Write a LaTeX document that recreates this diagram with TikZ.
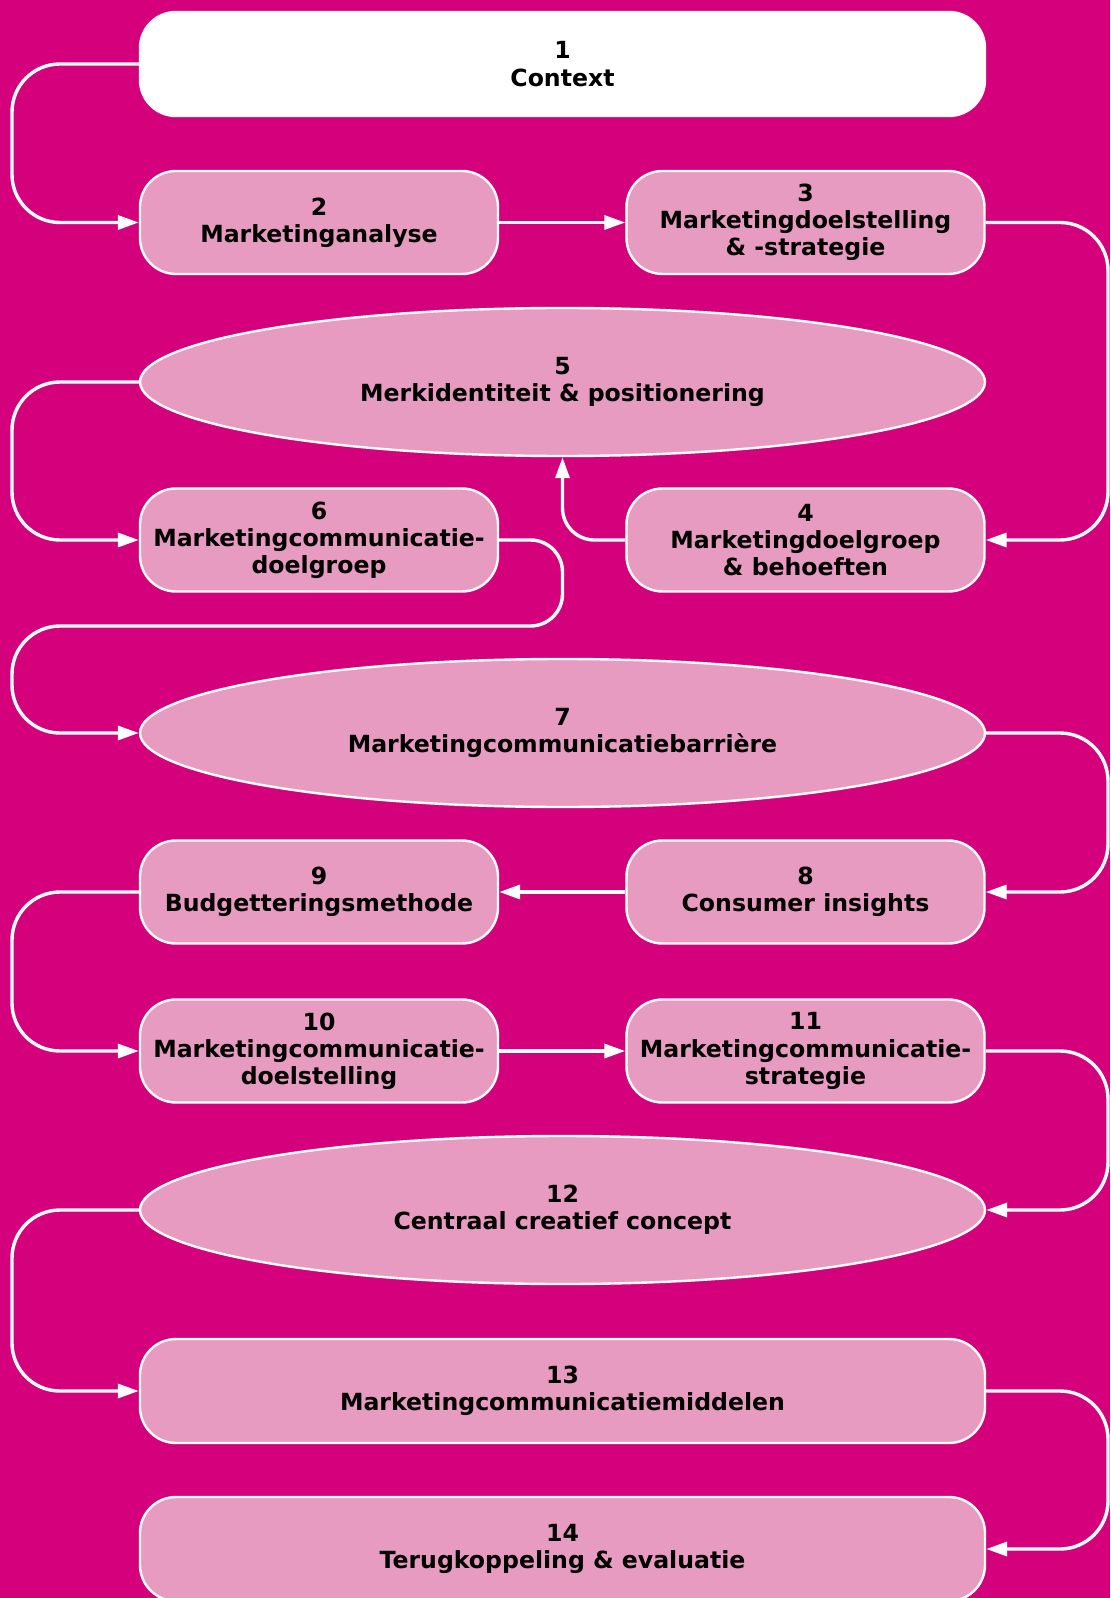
\documentclass[tikz,border=0pt]{standalone}
\usepackage{fontspec}
\setmainfont{DejaVu Sans}
\usetikzlibrary{shapes.geometric,arrows.meta}
\definecolor{magbg}{RGB}{213,0,123}
\definecolor{pinkfill}{RGB}{231,155,193}
\tikzset{x=0.5pt, y=-0.5pt,
    every node/.style={align=center, font=\fontsize{11.8}{13.6}\selectfont\bfseries},
    box/.style={draw=white, line width=1.2pt, fill=pinkfill, rounded corners=18pt,
        minimum width=179pt, minimum height=51.5pt, inner sep=0pt},
    wbox/.style={box, minimum width=422.5pt, minimum height=52pt},
    oval/.style={draw=white, line width=1.2pt, fill=pinkfill, ellipse,
        minimum width=422.5pt, minimum height=74pt, inner sep=0pt},
    link/.style={draw=white, line width=1.7pt, rounded corners=24pt,
        -{Triangle[length=10.5pt,width=7pt]}},
    shortlink/.style={link, rounded corners=16pt},
    }

\begin{document}
\begin{tikzpicture}
\clip (0,0) rectangle (1110,1598);
\fill[magbg] (0,0) rectangle (1110,1598);
% rails for the loops
\coordinate (lrail) at (12,0);
\coordinate (rrail) at (1108,0);
\coordinate (hook) at (562.5,626);
% steps
\node[wbox, fill=white] (n1) at (562.5,64) {1\\Context};
\node[box] (n2) at (319,222.5) {2\\Marketinganalyse};
\node[box] (n3) at (805.5,222.5) {3\\Marketingdoelstelling\\\& -strategie};
\node[oval] (n5) at (562.5,382) {5\\Merkidentiteit \& positionering};
\node[box] (n6) at (319,540) {6\\Marketingcommunicatie-\\doelgroep};
\node[box] (n4) at (805.5,540) {4\\Marketingdoelgroep\\\& behoeften};
\node[oval] (n7) at (562.5,733) {7\\Marketingcommunicatiebarrière};
\node[box] (n9) at (319,892) {9\\Budgetteringsmethode};
\node[box] (n8) at (805.5,892) {8\\Consumer insights};
\node[box] (n10) at (319,1051) {10\\Marketingcommunicatie-\\doelstelling};
\node[box] (n11) at (805.5,1051) {11\\Marketingcommunicatie-\\strategie};
\node[oval] (n12) at (562.5,1210) {12\\Centraal creatief concept};
\node[wbox] (n13) at (562.5,1391) {13\\Marketingcommunicatiemiddelen};
\node[wbox] (n14) at (562.5,1549) {14\\Terugkoppeling \& evaluatie};
% connectors
\draw[link] (n1.west) -- (n1.west -| lrail) |- (n2.west);
\draw[link] (n2) -- (n3);
\draw[link] (n3.east) -- (n3.east -| rrail) |- (n4.east);
\draw[shortlink] (n4.west) -| (n5.south);
\draw[link] (n5.west) -- (n5.west -| lrail) |- (n6.west);
\draw[link] (n6.east) [rounded corners=16pt] -| (hook) [rounded corners=24pt] -- (hook -| lrail) |- (n7.west);
\draw[link] (n7.east) -- (n7.east -| rrail) |- (n8.east);
\draw[link] (n8) -- (n9);
\draw[link] (n9.west) -- (n9.west -| lrail) |- (n10.west);
\draw[link] (n10) -- (n11);
\draw[link] (n11.east) -- (n11.east -| rrail) |- (n12.east);
\draw[link] (n12.west) -- (n12.west -| lrail) |- (n13.west);
\draw[link] (n13.east) -- (n13.east -| rrail) |- (n14.east);
\end{tikzpicture}
\end{document}
